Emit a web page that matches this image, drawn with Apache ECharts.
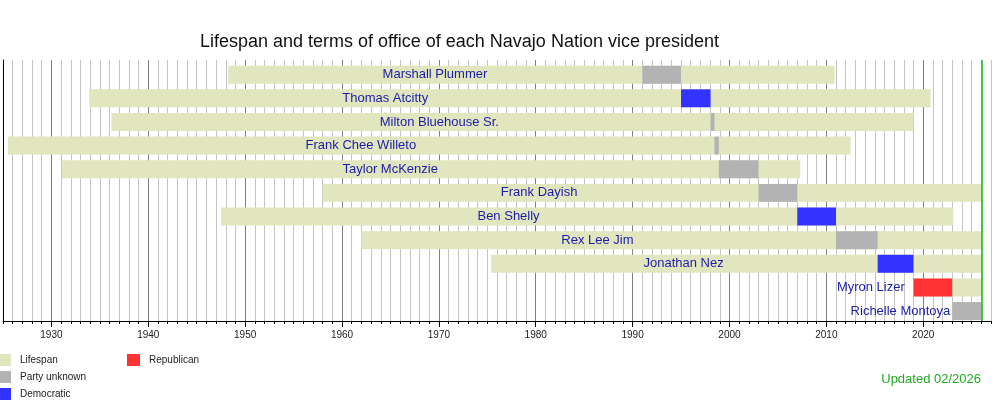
<!DOCTYPE html>
<html lang="en">
<head>
<meta charset="UTF-8">
<title>Navajo Nation vice presidents</title>
<script src="https://cdn.jsdelivr.net/npm/echarts@6/dist/echarts.min.js"></script>
<style>
html, body { margin: 0; padding: 0; background: #fff; }
#chart { width: 1000px; height: 400px; }
</style>
</head>
<body>
<div id="chart"></div>
<script>
// one row per vice president, top to bottom
var names = ['Marshall Plummer', 'Thomas Atcitty', 'Milton Bluehouse Sr.', 'Frank Chee Willeto',
  'Taylor McKenzie', 'Frank Dayish', 'Ben Shelly', 'Rex Lee Jim', 'Jonathan Nez',
  'Myron Lizer', 'Richelle Montoya'];
var NOW = 2026.0;
// lifespan (null birth = unknown, bar starts at term)
var born = [1948.25, 1933.9, 1936.2, 1925.5, 1931.1, 1958.0, 1947.5, 1962.0, 1975.4, null, null];
var died = [2010.85, 2020.75, 2019.0, 2012.5, 2007.3, NOW, 2023.1, NOW, NOW, NOW, NOW];
// term in office
var termStart = [1991.0, 1995.0, 1998.05, 1998.45, 1998.9, 2003.0, 2007.0, 2011.0, 2015.3, 2019.0, 2023.0];
var termEnd = [1995.0, 1998.05, 1998.45, 1998.9, 2003.0, 2007.0, 2011.0, 2015.3, 2019.0, 2023.0, NOW];
var party = ['Party unknown', 'Democratic', 'Party unknown', 'Party unknown', 'Party unknown',
  'Party unknown', 'Democratic', 'Party unknown', 'Democratic', 'Republican', 'Party unknown'];
// where each name label ends (right aligned)
var labelEnd = [1975.0, 1968.9, 1976.2, 1967.65, 1969.9, 1984.3, 1980.4, 1990.1, 1999.4, 2018.1, 2022.8];
var decades = [1930, 1940, 1950, 1960, 1970, 1980, 1990, 2000, 2010, 2020];

var partyColors = {
  'Party unknown': '#b3b3b3',
  'Democratic': '#3333ff',
  'Republican': '#ff3333'
};

var lifeData = [];
for (var i = 0; i < names.length; i++) {
  lifeData.push([i, born[i] == null ? termStart[i] : born[i], died[i]]);
}
function termData(p) {
  var out = [];
  for (var i = 0; i < names.length; i++) {
    if (party[i] === p) out.push([i, termStart[i], termEnd[i]]);
  }
  return out;
}
var labelData = names.map(function (n, i) { return [i, labelEnd[i]]; });

function barItem(params, api) {
  var row = api.value(0);
  var a = api.coord([api.value(1), row]);
  var b = api.coord([api.value(2), row]);
  var h = api.size([0, 1])[1] * 0.76;
  return {
    type: 'rect',
    shape: { x: a[0], y: a[1] - h / 2, width: b[0] - a[0], height: h },
    style: { fill: api.visual('color') }
  };
}

function termSeries(p) {
  return {
    name: p,
    type: 'custom',
    renderItem: barItem,
    encode: { x: [1, 2], y: 0 },
    itemStyle: { color: partyColors[p] },
    data: termData(p),
    z: 3
  };
}

// minor yearly grid lines, darker every decade (ticks start at 1925)
var gridColors = [];
for (var k = 0; k < 10; k++) gridColors.push(k === 5 ? '#808080' : '#c4c4c4');

function legendAt(name, left, top) {
  return {
    data: [name], orient: 'vertical', left: left, top: top, padding: 0,
    itemWidth: 13, itemHeight: 12, icon: 'rect', selectedMode: false,
    textStyle: { fontFamily: 'Liberation Sans', fontSize: 10, color: '#222', padding: [0, 0, 0, 4] }
  };
}

var chart = echarts.init(document.getElementById('chart'));
chart.setOption({
  animation: false,
  backgroundColor: '#fff',
  title: {
    text: 'Lifespan and terms of office of each Navajo Nation vice president',
    left: 200, top: 33, padding: 0,
    textStyle: { fontFamily: 'Liberation Sans', fontSize: 18, fontWeight: 'normal', color: '#111' }
  },
  legend: [
    legendAt('Lifespan', -2, 354),
    legendAt('Party unknown', -2, 371),
    legendAt('Democratic', -2, 388),
    legendAt('Republican', 127, 354)
  ],
  graphic: [{
    type: 'text', right: 19, top: 373,
    style: { text: 'Updated 02/2026', fill: '#22aa22', font: '13px "Liberation Sans"' }
  }],
  grid: { left: 1, right: 9, top: 60, bottom: 79 },
  xAxis: [{
    type: 'value', min: 1925, max: 2027, interval: 1,
    axisLine: { onZero: false, lineStyle: { color: '#000', width: 1 } },
    axisTick: { length: 3, lineStyle: { color: '#000' } },
    axisLabel: {
      margin: 9, fontFamily: 'Liberation Sans', fontSize: 10, color: '#222',
      formatter: function (v) { return decades.indexOf(v) >= 0 ? String(v) : ''; }
    },
    splitLine: { show: true, lineStyle: { color: gridColors, width: 1 } }
  }, {
    type: 'value', min: 1925, max: 2027, position: 'bottom',
    axisLine: { show: false, onZero: false },
    axisTick: { show: true, length: 6, customValues: decades, lineStyle: { color: '#000' } },
    axisLabel: { show: false },
    splitLine: { show: false }
  }],
  yAxis: {
    type: 'value', inverse: true, min: -0.62, max: 10.42,
    axisLine: { show: true, onZero: false, lineStyle: { color: '#000' } },
    axisTick: { show: false },
    axisLabel: { show: false },
    splitLine: { show: false }
  },
  series: [{
    name: 'Lifespan',
    type: 'custom',
    renderItem: barItem,
    encode: { x: [1, 2], y: 0 },
    itemStyle: { color: '#e1e6bf' },
    data: lifeData,
    z: 2,
    markLine: {
      silent: true, symbol: 'none', animation: false,
      label: { show: false },
      lineStyle: { color: '#11bb11', type: 'solid', width: 1.5 },
      data: [{ xAxis: NOW }]
    }
  },
  termSeries('Party unknown'),
  termSeries('Democratic'),
  termSeries('Republican'),
  {
    name: 'names',
    type: 'custom',
    encode: { x: 1, y: 0 },
    data: labelData,
    z: 5,
    renderItem: function (params, api) {
      var p = api.coord([api.value(1), api.value(0)]);
      return {
        type: 'text',
        x: p[0], y: p[1],
        style: {
          text: names[params.dataIndex],
          fill: '#1c1cab',
          font: '13px "Liberation Sans"',
          align: 'right', verticalAlign: 'middle'
        }
      };
    }
  }]
});
</script>
</body>
</html>
